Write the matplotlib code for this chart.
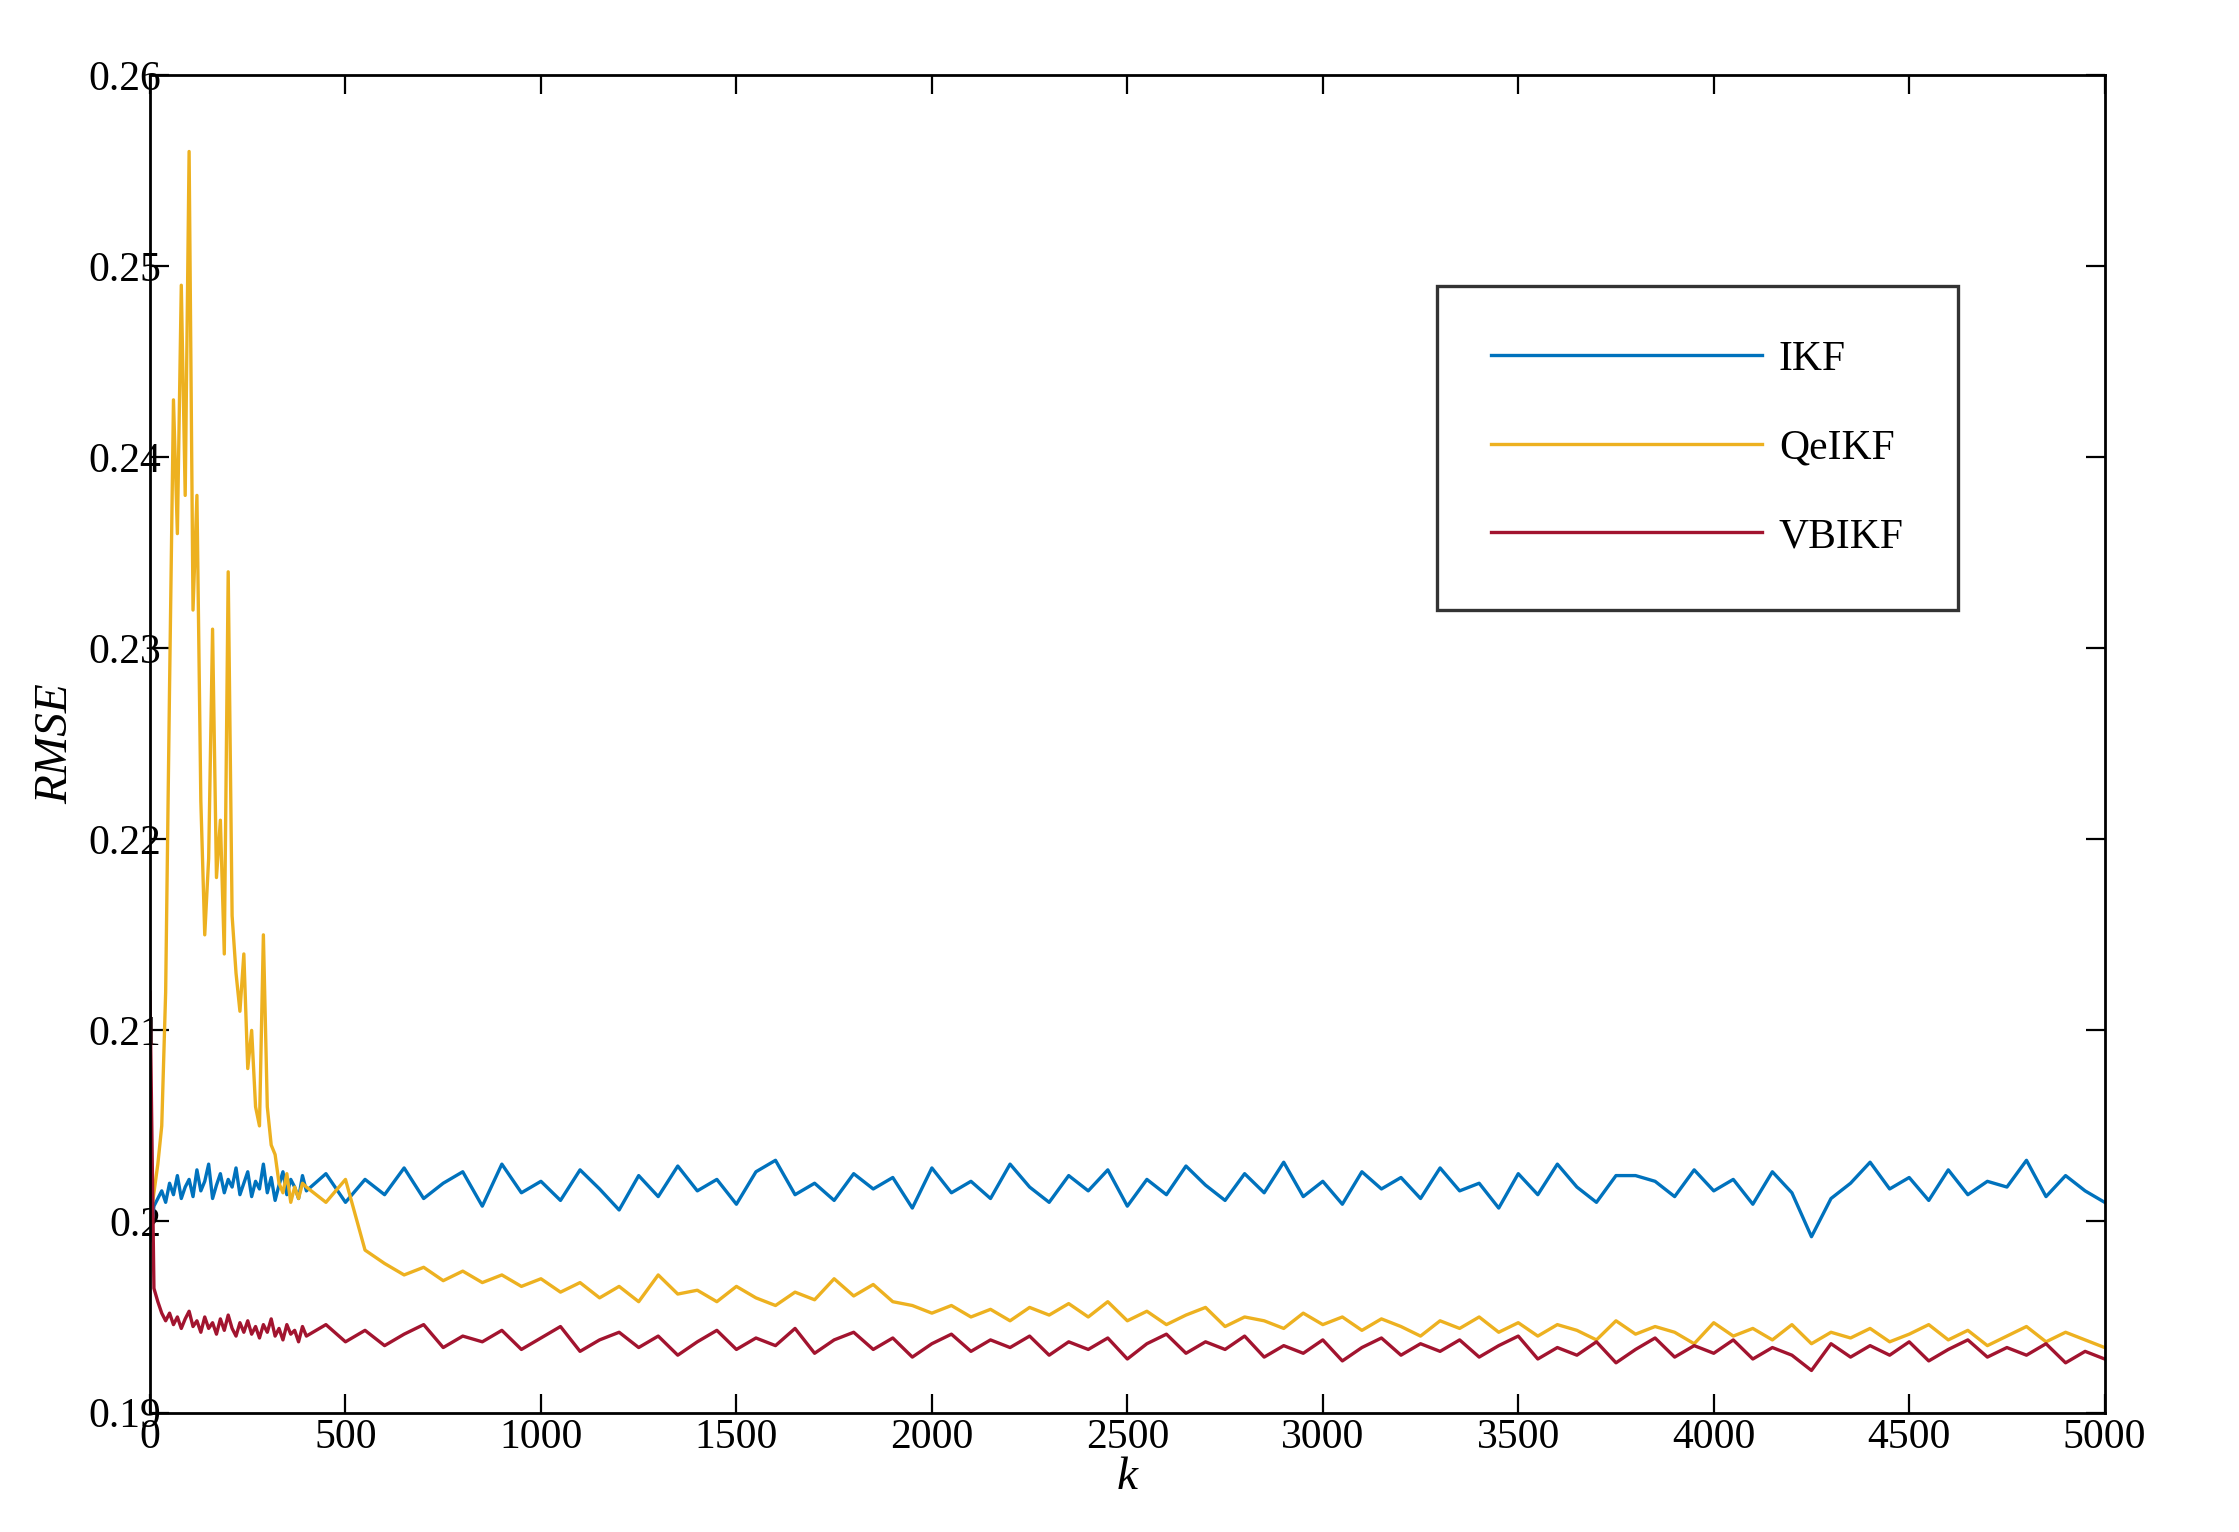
import numpy as np
import matplotlib
matplotlib.use("Agg")
from matplotlib import pyplot as plt
from matplotlib.ticker import FuncFormatter

plt.rcParams['font.family'] = ['Liberation Serif', 'DejaVu Serif']

k = list(range(0, 400, 10)) + list(range(400, 5001, 50))

ikf = [0.199, 0.2008, 0.2012, 0.2016, 0.2010, 0.2020, 0.2014, 0.2024, 0.2012, 0.2018,
       0.2022, 0.2013, 0.2027, 0.2016, 0.2021, 0.2030, 0.2012, 0.2019, 0.2025, 0.2015,
       0.2022, 0.2018, 0.2028, 0.2014, 0.2020, 0.2026, 0.2013, 0.2021, 0.2017, 0.2030,
       0.2015, 0.2023, 0.2011, 0.2019, 0.2026, 0.2014, 0.2022, 0.2018, 0.2012, 0.2024,
       0.2016, 0.2025, 0.2010, 0.2022, 0.2014, 0.2028, 0.2012, 0.2020, 0.2026, 0.2008,
       0.2030, 0.2015, 0.2021, 0.2011, 0.2027, 0.2017, 0.2006, 0.2024, 0.2013, 0.2029,
       0.2016, 0.2022, 0.2009, 0.2026, 0.2032, 0.2014, 0.2020, 0.2011, 0.2025, 0.2017,
       0.2023, 0.2007, 0.2028, 0.2015, 0.2021, 0.2012, 0.2030, 0.2018, 0.2010, 0.2024,
       0.2016, 0.2027, 0.2008, 0.2022, 0.2014, 0.2029, 0.2019, 0.2011, 0.2025, 0.2015,
       0.2031, 0.2013, 0.2021, 0.2009, 0.2026, 0.2017, 0.2023, 0.2012, 0.2028, 0.2016,
       0.2020, 0.2007, 0.2025, 0.2014, 0.2030, 0.2018, 0.2010, 0.2024, 0.2024, 0.2021,
       0.2013, 0.2027, 0.2016, 0.2022, 0.2009, 0.2026, 0.2015, 0.1992, 0.2012, 0.2020,
       0.2031, 0.2017, 0.2023, 0.2011, 0.2027, 0.2014, 0.2021, 0.2018, 0.2032, 0.2013,
       0.2024, 0.2016, 0.2010]

qeikf = [0.200, 0.2015, 0.203, 0.205, 0.212, 0.228, 0.243, 0.236, 0.249, 0.238,
         0.256, 0.232, 0.238, 0.222, 0.215, 0.219, 0.231, 0.218, 0.221, 0.214,
         0.234, 0.216, 0.213, 0.211, 0.214, 0.208, 0.210, 0.206, 0.205, 0.215,
         0.206, 0.204, 0.2035, 0.202, 0.2015, 0.2025, 0.201, 0.2018, 0.2012, 0.202,
         0.2018, 0.2010, 0.2022, 0.1985, 0.1978, 0.1972, 0.1976, 0.1969, 0.1974, 0.1968,
         0.1972, 0.1966, 0.1970, 0.1963, 0.1968, 0.1960, 0.1966, 0.1958, 0.1972, 0.1962,
         0.1964, 0.1958, 0.1966, 0.1960, 0.1956, 0.1963, 0.1959, 0.1970, 0.1961, 0.1967,
         0.1958, 0.1956, 0.1952, 0.1956, 0.1950, 0.1954, 0.1948, 0.1955, 0.1951, 0.1957,
         0.1950, 0.1958, 0.1948, 0.1953, 0.1946, 0.1951, 0.1955, 0.1945, 0.1950, 0.1948,
         0.1944, 0.1952, 0.1946, 0.1950, 0.1943, 0.1949, 0.1945, 0.1940, 0.1948, 0.1944,
         0.1950, 0.1942, 0.1947, 0.1940, 0.1946, 0.1943, 0.1938, 0.1948, 0.1941, 0.1945,
         0.1942, 0.1936, 0.1947, 0.1940, 0.1944, 0.1938, 0.1946, 0.1936, 0.1942, 0.1939,
         0.1944, 0.1937, 0.1941, 0.1946, 0.1938, 0.1943, 0.1935, 0.1940, 0.1945, 0.1937,
         0.1942, 0.1938, 0.1934]

vbikf = [0.212, 0.1965, 0.1958, 0.1952, 0.1948, 0.1952, 0.1946, 0.1950, 0.1944, 0.1949,
         0.1953, 0.1945, 0.1948, 0.1942, 0.1950, 0.1944, 0.1947, 0.1941, 0.1949, 0.1943,
         0.1951, 0.1944, 0.1940, 0.1947, 0.1942, 0.1948, 0.1941, 0.1945, 0.1939, 0.1946,
         0.1942, 0.1949, 0.1940, 0.1944, 0.1938, 0.1946, 0.1941, 0.1943, 0.1937, 0.1945,
         0.1940, 0.1946, 0.1937, 0.1943, 0.1935, 0.1941, 0.1946, 0.1934, 0.1940, 0.1937,
         0.1943, 0.1933, 0.1939, 0.1945, 0.1932, 0.1938, 0.1942, 0.1934, 0.1940, 0.1930,
         0.1937, 0.1943, 0.1933, 0.1939, 0.1935, 0.1944, 0.1931, 0.1938, 0.1942, 0.1933,
         0.1939, 0.1929, 0.1936, 0.1941, 0.1932, 0.1938, 0.1934, 0.1940, 0.1930, 0.1937,
         0.1933, 0.1939, 0.1928, 0.1936, 0.1941, 0.1931, 0.1937, 0.1933, 0.1940, 0.1929,
         0.1935, 0.1931, 0.1938, 0.1927, 0.1934, 0.1939, 0.1930, 0.1936, 0.1932, 0.1938,
         0.1929, 0.1935, 0.1940, 0.1928, 0.1934, 0.1930, 0.1937, 0.1926, 0.1933, 0.1939,
         0.1929, 0.1935, 0.1931, 0.1938, 0.1928, 0.1934, 0.1930, 0.1922, 0.1936, 0.1929,
         0.1935, 0.1930, 0.1937, 0.1927, 0.1933, 0.1938, 0.1929, 0.1934, 0.1930, 0.1936,
         0.1926, 0.1932, 0.1928]

fig = plt.figure(figsize=(11.195, 7.66), dpi=200)
ax = fig.add_axes([0.067, 0.078, 0.873, 0.873])

ax.plot(k, ikf, color='#0072BD', lw=1.2, label='IKF')
ax.plot(k, qeikf, color='#EDB120', lw=1.2, label='QeIKF')
ax.plot(k, vbikf, color='#A2142F', lw=1.2, label='VBIKF')

ax.set_xlim(0, 5000)
ax.set_ylim(0.19, 0.26)
ax.set_xticks(np.arange(0, 5001, 500))
ax.set_yticks(np.arange(0.19, 0.2601, 0.01))
ax.yaxis.set_major_formatter(FuncFormatter(lambda v, p: '%g' % round(v, 3)))
ax.tick_params(direction='in', top=True, right=True, labelsize=15, length=7)
ax.tick_params(axis='y', pad=-4)
ax.tick_params(axis='x', pad=2)
for s in ax.spines.values():
    s.set_linewidth(1.0)

ax.set_xlabel('k', fontsize=17, style='italic', labelpad=0)
ax.set_ylabel('RMSE', fontsize=17, style='italic', labelpad=4)

leg = ax.legend(loc='upper right', bbox_to_anchor=(0.925, 0.842), fontsize=15,
                frameon=True, fancybox=False, edgecolor='black',
                handlelength=6.5, labelspacing=1.2, borderpad=1.3,
                handletextpad=0.4, borderaxespad=0)
leg.get_frame().set_linewidth(1.2)
leg.get_frame().set_boxstyle('square', pad=0)
leg._legend_box.align = 'right'

fig.savefig('out.png')
